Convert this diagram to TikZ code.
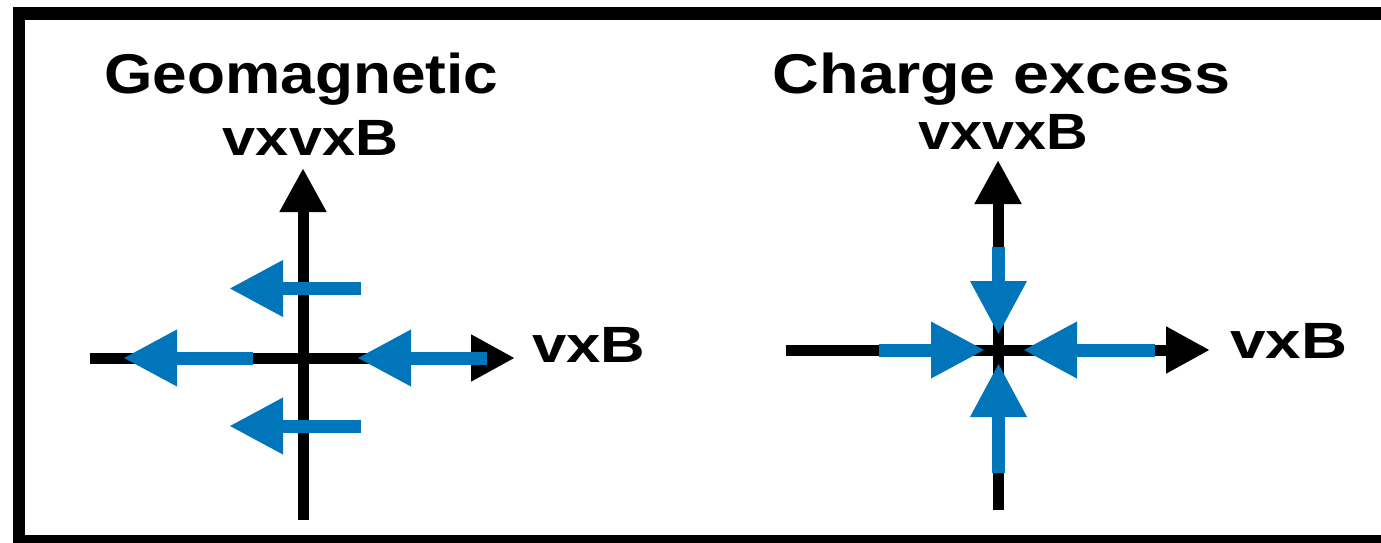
\documentclass[tikz,border=0pt]{standalone}
\usepackage{fontspec}
\setmainfont{Liberation Sans}
\usetikzlibrary{arrows.meta}
\definecolor{fieldblue}{RGB}{0,117,186}
\tikzset{
  axis/.style={line width=11pt, black, line cap=butt, -{Triangle[length=44pt,width=44pt]}},
  axisplain/.style={line width=11pt, black, line cap=butt},
  field/.style={line width=13pt, fieldblue, line cap=butt, -{Triangle[length=54pt,width=53pt]}},
  title/.style={inner sep=0pt, font=\bfseries\fontsize{56}{60}\selectfont},
  label/.style={inner sep=0pt, font=\bfseries\fontsize{51}{55}\selectfont},
}
\begin{document}
\begin{tikzpicture}[x=1pt,y=-1pt]
\useasboundingbox (0,0) rectangle (1381,543);
\clip (0,0) rectangle (1381,543);
% frame
\draw[line width=12.5pt] (19,13.5) rectangle (1400,541);

% ---------- left panel: Geomagnetic ----------
\node[title, anchor=base] (t1) at (301.5,93) {\scalebox{1.11}[1]{Geomagnetic}};
\node[label, anchor=base] (y1) at (310.5,155) {\scalebox{1.165}[1]{vxvxB}};
\node[label, anchor=base west] (x1) at (532,362) {\scalebox{1.21}[1]{vxB}};
\coordinate (h1s) at (90,358);
\coordinate (h1e) at (515,358);
\coordinate (v1s) at (303,520);
\coordinate (v1e) at (303,168);
\draw[axis] (h1s) -- (h1e);
\draw[axis] (v1s) -- (v1e);
% field arrows
\coordinate (a1s) at (361,288.5); \coordinate (a1e) at (229,288.5);
\coordinate (a2s) at (361,426);   \coordinate (a2e) at (229,426);
\coordinate (a3s) at (253,358);   \coordinate (a3e) at (123,358);
\coordinate (a4s) at (487,358);   \coordinate (a4e) at (357,358);
\draw[field] (a1s) -- (a1e);
\draw[field] (a2s) -- (a2e);
\draw[field] (a3s) -- (a3e);
\draw[field] (a4s) -- (a4e);

% ---------- right panel: Charge excess ----------
\node[title, anchor=base] (t2) at (1001.5,93) {\scalebox{1.157}[1]{Charge excess}};
\node[label, anchor=base] (y2) at (1003,149) {\scalebox{1.13}[1]{vxvxB}};
\node[label, anchor=base west] (x2) at (1230,358) {\scalebox{1.25}[1]{vxB}};
\coordinate (h2s) at (786,350);
\coordinate (h2e) at (1210,350);
\coordinate (v2s) at (998,510);
\coordinate (v2e) at (998,160);
\draw[axis] (h2s) -- (h2e);
\draw[axis] (v2s) -- (v2e);
% field arrows
\coordinate (b1s) at (998.5,247);  \coordinate (b1e) at (998.5,335);
\coordinate (b2s) at (998.5,473);  \coordinate (b2e) at (998.5,363);
\coordinate (b3s) at (879,350);    \coordinate (b3e) at (985,350);
\coordinate (b4s) at (1155,350);   \coordinate (b4e) at (1023,350);
\draw[field] (b1s) -- (b1e);
\draw[field] (b2s) -- (b2e);
\draw[field] (b3s) -- (b3e);
\draw[field] (b4s) -- (b4e);
\end{tikzpicture}
\end{document}
